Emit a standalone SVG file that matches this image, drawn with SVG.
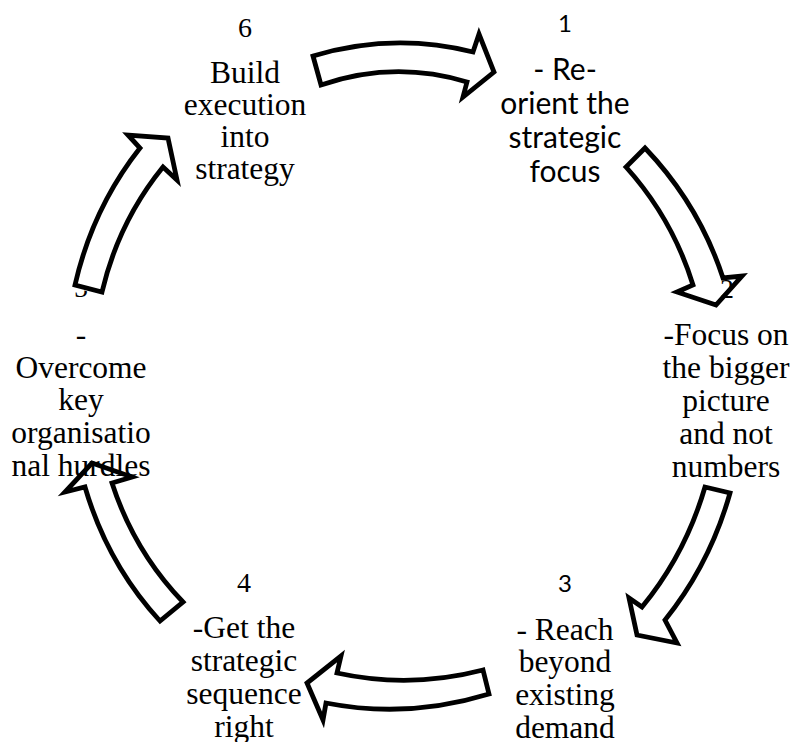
<svg xmlns="http://www.w3.org/2000/svg" width="792" height="742" viewBox="0 0 792 742">
<style>
.t{font-family:Liberation Serif,Times New Roman,serif;font-size:31.5px;fill:#000;text-anchor:middle}
.s{font-family:Lato,Liberation Sans,sans-serif;font-size:30px;fill:#000;text-anchor:middle}
.tn{font-family:Liberation Serif,Times New Roman,serif;font-size:28px;fill:#000;text-anchor:middle}
.sn{font-family:Lato,Liberation Sans,sans-serif;font-size:24px;fill:#000;text-anchor:middle}
.arr{fill:#fff;stroke:#000;stroke-width:4.8;stroke-linejoin:miter;stroke-miterlimit:10}
</style>
<defs>
<clipPath id="c5"><path d="M55,288 L75,288 L105,296 L105,312 L55,312 Z"/></clipPath>
</defs>
<rect width="792" height="742" fill="#fff"/>
<g id="connectors">
<path class="arr" d="M313,56 Q393,32 473,52 L479,34 L494,72 L463,97 L467,82 Q394,60 321,85 Z"/>
<path class="arr" d="M645,148 Q699,204.5 723,278 L742,276 L716,305 L677,292 L693,285 Q672.5,218.6 626,167 Z"/>
<path class="arr" d="M730,493 Q710,564 665,620 L677,643 L637,635 L629,598 L642,607 Q685.4,554.3 705,487 Z"/>
<path class="arr" d="M483,670 Q410,689 337,673 L341,656 L307,683 L323,720 L326,703 Q407.5,719 489,694 Z"/>
<path class="arr" d="M160,621 Q107.4,563.8 85,487 L65,492 L92,463 L132,477 L112,483 Q134.2,551.4 183,602 Z"/>
<path class="arr" d="M75,285 Q92.5,208.2 140,148 L128,135 L168,138 L177,180 L163,167 Q118.5,221.7 102,292 Z"/>
</g>
<g id="node1">
<text class="sn" x="565" y="32">1</text>
<text class="s" x="565" y="80">- Re-</text>
<text class="s" x="565" y="114">orient the</text>
<text class="s" x="565" y="148">strategic</text>
<text class="s" x="565" y="182">focus</text>
</g>
<g id="node2">
<text class="tn" x="727" y="298">2</text>
<text class="t" x="726" y="345">-Focus on</text>
<text class="t" x="726" y="378">the bigger</text>
<text class="t" x="726" y="411">picture</text>
<text class="t" x="726" y="444">and not</text>
<text class="t" x="726" y="477">numbers</text>
</g>
<g id="node3">
<text class="sn" x="565" y="592">3</text>
<text class="t" x="565" y="640">- Reach</text>
<text class="t" x="565" y="672">beyond</text>
<text class="t" x="565" y="705">existing</text>
<text class="t" x="565" y="738">demand</text>
</g>
<g id="node4">
<text class="tn" x="244" y="592">4</text>
<text class="t" x="244" y="638">-Get the</text>
<text class="t" x="244" y="671">strategic</text>
<text class="t" x="244" y="704">sequence</text>
<text class="t" x="244" y="737">right</text>
</g>
<g id="node5">
<text class="tn" x="81" y="297" clip-path="url(#c5)">5</text>
<text class="t" x="81" y="345">-</text>
<text class="t" x="81" y="378">Overcome</text>
<text class="t" x="81" y="410">key</text>
<text class="t" x="81" y="443">organisatio</text>
<text class="t" x="81" y="476">nal hurdles</text>
</g>
<g id="node6">
<text class="tn" x="245" y="37">6</text>
<text class="t" x="245" y="83">Build</text>
<text class="t" x="245" y="115">execution</text>
<text class="t" x="245" y="147">into</text>
<text class="t" x="245" y="179">strategy</text>
</g>
</svg>
